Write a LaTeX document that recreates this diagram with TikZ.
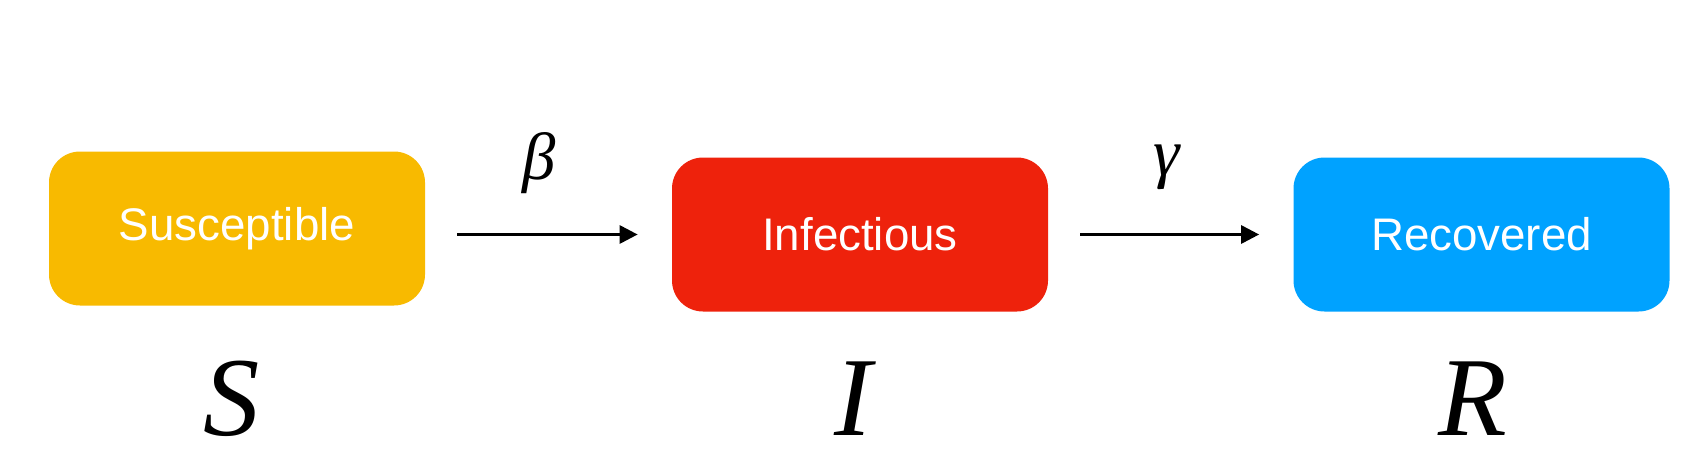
\documentclass[tikz,border=0pt]{standalone}
\usepackage{fontspec}
\setmainfont{Liberation Serif}
\newfontfamily\boxfont{Liberation Sans}
\usetikzlibrary{arrows.meta}
\definecolor{sirgold}{HTML}{F8BA00}
\definecolor{sirred}{HTML}{EE220C}
\definecolor{sirblue}{HTML}{00A2FF}

\begin{document}
\begin{tikzpicture}[
    comp/.style={rounded corners=0.62cm,minimum width=7.52cm,minimum height=3.08cm,
      inner sep=0pt,text=white,font=\boxfont\fontsize{26}{26}\selectfont},
    flow/.style={line width=1.7pt,-{Triangle[length=0.36cm,width=0.36cm]},
      shorten <=0.64cm,shorten >=0.68cm},
    rate/.style={font=\fontsize{38}{38}\selectfont\itshape},
    var/.style={anchor=base,font=\fontsize{64}{64}\selectfont\itshape}]
    \useasboundingbox (0,0) rectangle (34.06,9.4);
    \node[comp,fill=sirgold] (sus) at (4.74,4.83) {Susceptible};
    \node[comp,fill=sirred] (inf) at (17.2,4.71) {Infectious};
    \node[comp,fill=sirblue] (rec) at (29.63,4.71) {Recovered};

    \draw[flow] (sus.east |- inf.west) -- (inf.west);
    \draw[flow] (inf.east) -- (rec.west);
    \node[rate] (beta) at (10.78,6.14) {β};
    \node[rate] (gamma) at (23.34,6.06) {γ};

    \node[var] (S) at (4.64,0.69) {S};
    \node[var] (I) at (17.06,0.69) {I};
    \node[var] (R) at (29.46,0.69) {R};
  \end{tikzpicture}
\end{document}
